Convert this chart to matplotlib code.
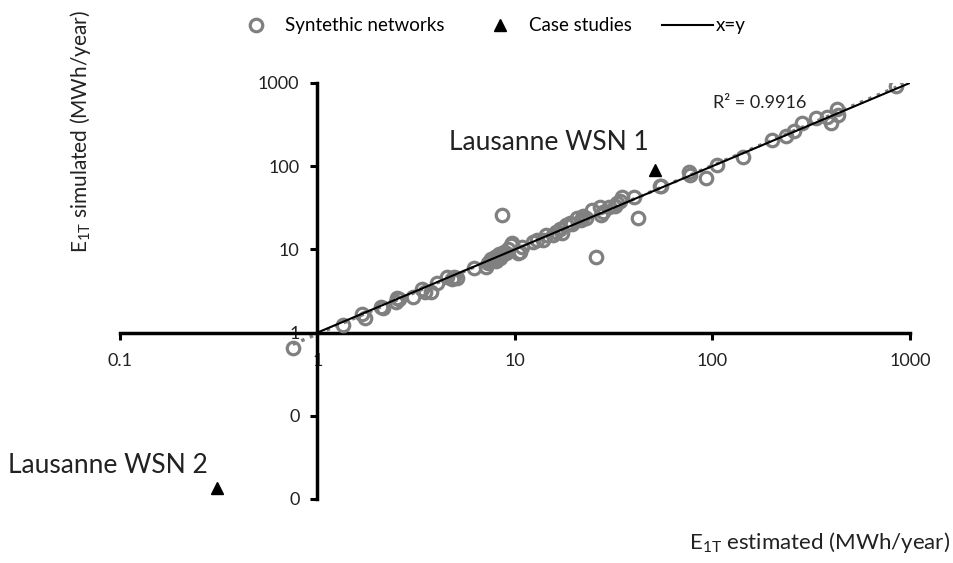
import numpy as np
import matplotlib.pyplot as plt
from matplotlib.ticker import FixedLocator, FixedFormatter, NullLocator

plt.rcParams['font.family'] = ['Lato', 'DejaVu Sans']
plt.rcParams['mathtext.fontset'] = 'custom'
plt.rcParams['mathtext.rm'] = 'Lato'

# Synthetic networks (estimated vs simulated, MWh/year)
syn_x = [0.75, 1.34, 1.69, 1.73, 2.1, 2.15, 2.5, 2.54, 2.6, 3.03, 3.4, 3.5, 3.77, 4.05,
         4.55, 4.8, 4.9, 5.1, 6.2, 7.1, 7.3, 7.5, 7.6, 7.8, 7.9, 8.0, 8.1, 8.3, 8.4, 8.6,
         8.8, 9.0, 9.2, 9.5, 9.7, 8.55, 10.3, 10.6, 10.9, 12.3, 13.0, 13.8, 14.4, 15.5,
         16.2, 17.0, 17.4, 18.2, 18.9, 19.5, 20.5, 21.5, 22, 23, 24.5, 25.6, 26.8, 27.4,
         28, 30, 32, 33, 34, 35, 40, 41.8, 54, 55, 76, 77, 93, 106, 142, 201, 236, 260,
         285, 336, 381, 400, 429, 430, 855]
syn_y = [0.66, 1.25, 1.65, 1.51, 2.05, 2.0, 2.36, 2.63, 2.5, 2.7, 3.3, 3.1, 3.1, 3.9,
         4.6, 4.4, 4.6, 4.5, 6.0, 6.2, 6.9, 7.2, 7.6, 7.5, 8.0, 7.2, 8.3, 8.8, 7.9, 8.6,
         9.3, 9.1, 10.2, 11.3, 12, 26, 9.1, 9.4, 10.8, 12.4, 12.8, 13.1, 15, 14.8,
         16.3, 17.5, 15.9, 19.5, 21, 20, 24, 22.5, 25, 23.5, 30, 8.2, 32.6, 26,
         28.5, 32.6, 33, 36, 38, 42, 43, 24, 57, 58, 86, 79, 73, 104, 130, 208, 233, 265,
         334, 382, 393, 334, 492, 417, 910]

# Case studies
case_x = [51.4, 0.31]
case_y = [91, 0.0137]
case_names = ['Lausanne WSN 1', 'Lausanne WSN 2']

x_ticks = [0.1, 1, 10, 100, 1000]
x_labels = ['0.1', '1', '10', '100', '1000']
y_ticks = [0.01, 0.1, 1, 10, 100, 1000]
y_labels = ['0', '0', '1', '10', '100', '1000']

fig = plt.figure(figsize=(9.54, 5.63), dpi=100)
ax = fig.add_axes([0.1258, 0.1137, 0.828, 0.739])
ax.set_xscale('log')
ax.set_yscale('log')
ax.set_xlim(0.1, 1000)
ax.set_ylim(0.01, 1000)

# power trendline fitted in log space
lx = np.log10(syn_x)
ly = np.log10(syn_y)
b, a = np.polyfit(lx, ly, 1)
tx = np.array([min(syn_x), max(syn_x)])
ax.plot(tx, 10 ** a * tx ** b, ':', color='#808080', lw=2.5, zorder=2)

ax.plot(syn_x, syn_y, 'o', ms=9, mfc='none', mec='#808080', mew=2.3,
        label='Syntethic networks', zorder=3)
ax.plot(case_x, case_y, '^', ms=9, color='black', label='Case studies', zorder=4)
ax.plot([1, 1000], [1, 1000], '-', color='black', lw=1.5, label='x=y', zorder=3)

ax.annotate(case_names[0], (case_x[0], case_y[0]), xytext=(-106, 27),
            textcoords='offset pixels', ha='center', va='center', fontsize=19,
            color='#222222')
ax.annotate(case_names[1], (case_x[1], case_y[1]), xytext=(-109, 22),
            textcoords='offset pixels', ha='center', va='center', fontsize=19,
            color='#222222', annotation_clip=False)
ax.text(0.81, 0.952, 'R² = 0.9916', transform=ax.transAxes, ha='center', va='center',
        fontsize=13, color='#222222')

for s in ['top', 'right']:
    ax.spines[s].set_visible(False)
ax.spines['left'].set_position(('data', 1))
ax.spines['bottom'].set_position(('data', 1))
ax.spines['left'].set_linewidth(2.5)
ax.spines['bottom'].set_linewidth(2.5)

ax.xaxis.set_major_locator(FixedLocator(x_ticks))
ax.xaxis.set_major_formatter(FixedFormatter(x_labels))
ax.yaxis.set_major_locator(FixedLocator(y_ticks))
ax.yaxis.set_major_formatter(FixedFormatter(y_labels))
ax.xaxis.set_minor_locator(NullLocator())
ax.yaxis.set_minor_locator(NullLocator())
ax.tick_params(axis='both', direction='out', length=5, width=2.2, labelsize=13,
               labelcolor='#222222')
ax.tick_params(axis='x', pad=10)
ax.tick_params(axis='y', pad=8)

fig.text(0.996, 0.037, r'E$_{\mathregular{1T}}$ estimated (MWh/year)', ha='right',
         va='center', fontsize=16, color='#222222')
fig.text(0.084, 0.767, r'E$_{\mathregular{1T}}$ simulated (MWh/year)', rotation=90,
         ha='center', va='center', fontsize=15, color='#222222')

fig.legend(loc='center', bbox_to_anchor=(0.512, 0.954), ncol=3, frameon=False,
           fontsize=13.5, handlelength=2.7, columnspacing=1.6, handletextpad=0.2)

fig.savefig('out.png', dpi=100)
